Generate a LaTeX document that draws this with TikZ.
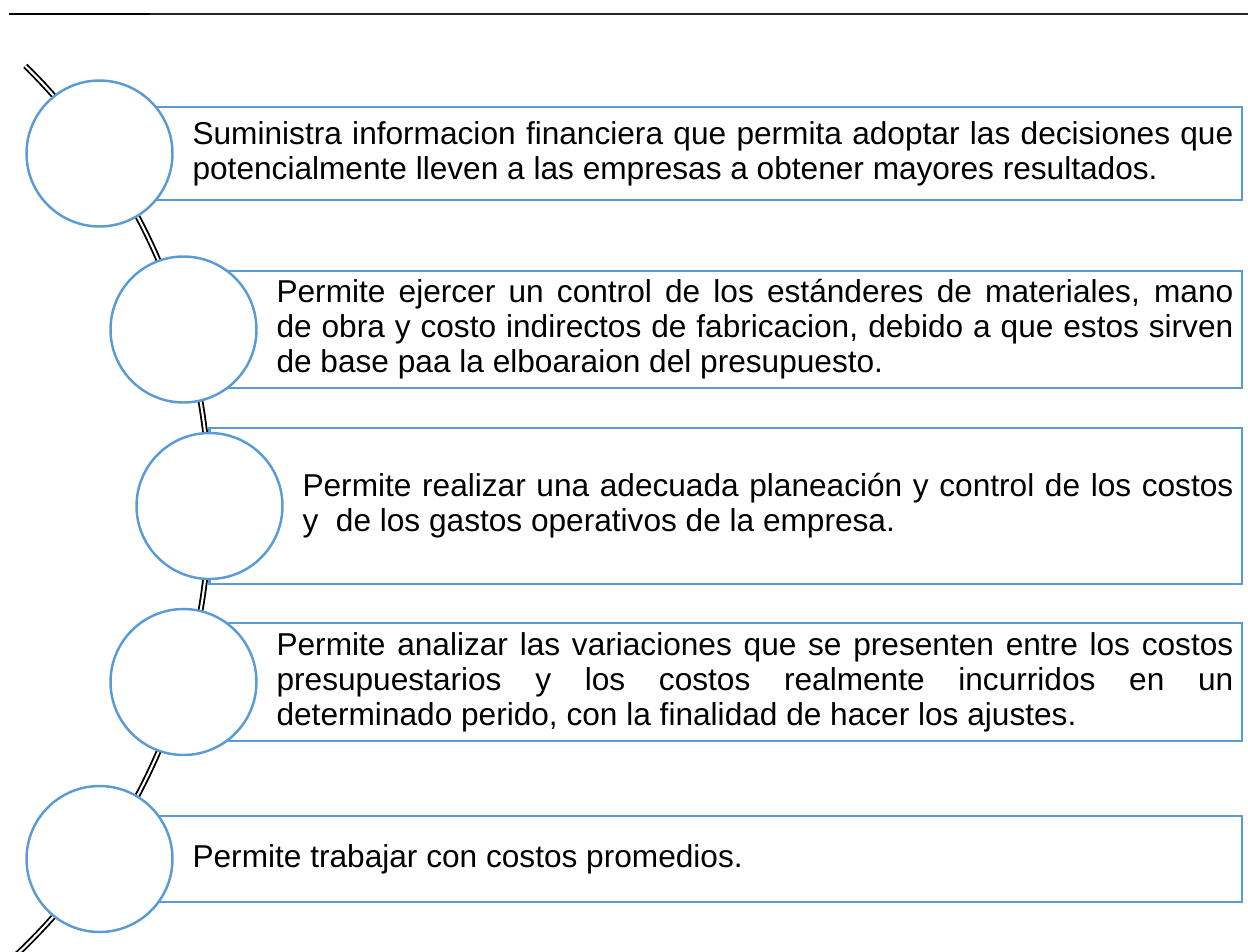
\documentclass[tikz,border=0pt]{standalone}
\usepackage{fontspec}
\setmainfont{Liberation Sans}
\usetikzlibrary{positioning}
\definecolor{smartblue}{HTML}{5B9BD5}
\hyphenpenalty=10000
\exhyphenpenalty=10000

\begin{document}
\begin{tikzpicture}[x=0.02cm, y=-0.02cm,
    bubble/.style={circle, draw=smartblue, line width=1.4pt, fill=white, minimum size=2.92cm, inner sep=0pt},
    panel/.style={rectangle, draw=smartblue, line width=1.3pt, outer sep=0pt, anchor=west},
    blurb/.style={inner sep=0pt, align=justify, font=\fontsize{18}{19.9}\selectfont},
    spine/.style={draw=black, line width=1.05pt, double=white, double distance=1.2pt}]
    \useasboundingbox (0,0) rectangle (1248,951);

    % Header rule
    \coordinate (ruleA) at (9,14);
    \coordinate (ruleB) at (150,14);
    \coordinate (ruleC) at (1248,14);
    \draw[line width=1.3pt] (ruleA) -- (ruleB);
    \draw[line width=0.9pt, black!85] (ruleB) -- (ruleC);

    % Spine through the bubbles
    \coordinate (hub) at (-408.7,506);
    \draw[spine] (hub) ++(-45.4:618.2) arc[start angle=-45.4, end angle=47, radius=618.2];

    % Panels
    \node[panel, minimum width=22.85cm, minimum height=1.86cm] (p1) at (99.5,153.5) {};
    \node[panel, minimum width=21.17cm, minimum height=2.34cm] (p2) at (183.5,329.5) {};
    \node[panel, minimum width=20.65cm, minimum height=3.12cm] (p3) at (209.5,506) {};
    \node[panel, minimum width=21.17cm, minimum height=2.36cm] (p4) at (183.5,682) {};
    \node[panel, minimum width=22.85cm, minimum height=1.72cm] (p5) at (99.5,859) {};

    % Bubbles
    \node[bubble] (c1) at (99.5,153.5) {};
    \node[bubble] (c2) at (183.5,329.5) {};
    \node[bubble] (c3) at (209.5,506) {};
    \node[bubble] (c4) at (183.5,682) {};
    \node[bubble] (c5) at (99.5,859) {};

    % Texts
    \node[blurb, text width=20.82cm, right=0.37cm of c1] (t1) {Suministra informacion financiera que permita adoptar las decisiones que\linebreak potencialmente lleven a las empresas a obtener mayores resultados.};
    \node[blurb, text width=19.14cm, right=0.37cm of c2] (t2) {Permite ejercer un control de los estánderes de materiales, mano\linebreak de obra y costo indirectos de fabricacion, debido a que estos sirven\linebreak de base paa la elboaraion del presupuesto.};
    \node[blurb, text width=18.62cm, right=0.37cm of c3] (t3) {Permite realizar una adecuada planeación y control de los costos\linebreak y\ \ de los gastos operativos de la empresa.};
    \node[blurb, text width=19.14cm, right=0.37cm of c4] (t4) {Permite analizar las variaciones que se presenten entre los costos\linebreak presupuestarios y los costos realmente incurridos en un\linebreak determinado perido, con la finalidad de hacer los ajustes.};
    \node[blurb, text width=20.82cm, right=0.37cm of c5] (t5) {Permite trabajar con costos promedios.};
\end{tikzpicture}
\end{document}
